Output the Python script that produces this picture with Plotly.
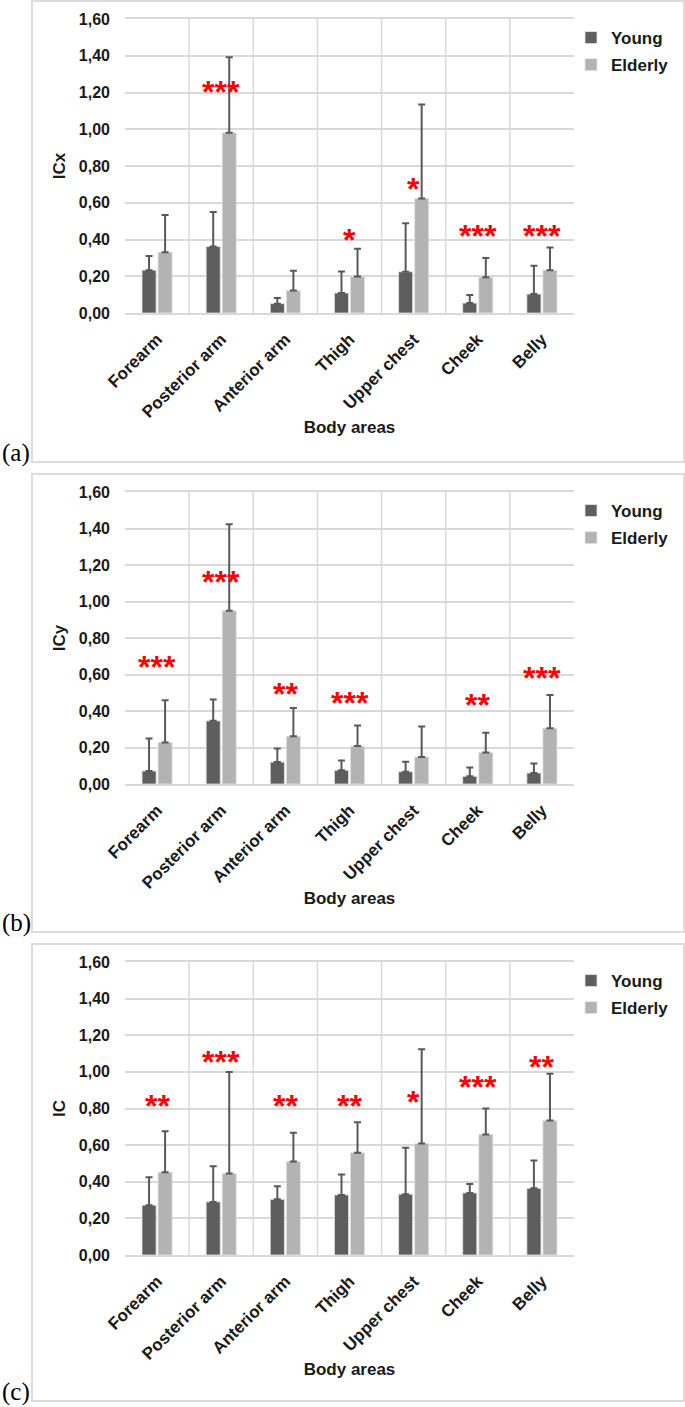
import plotly.graph_objects as go

areas = ["Forearm", "Posterior arm", "Anterior arm", "Thigh", "Upper chest", "Cheek", "Belly"]

# (a) ICx
icx_young = [0.233, 0.362, 0.051, 0.109, 0.224, 0.054, 0.103]
icx_young_sd = [0.077, 0.188, 0.030, 0.117, 0.265, 0.044, 0.154]
icx_elderly = [0.331, 0.981, 0.123, 0.199, 0.623, 0.195, 0.233]
icx_elderly_sd = [0.203, 0.411, 0.107, 0.150, 0.512, 0.104, 0.124]
icx_stars = ["", "***", "", "*", "*", "***", "***"]
icx_star_y = [0, 1.236, 0, 0.43, 0.708, 0.454, 0.454]

# (b) ICy
icy_young = [0.071, 0.346, 0.120, 0.075, 0.067, 0.042, 0.060]
icy_young_sd = [0.179, 0.117, 0.075, 0.054, 0.055, 0.049, 0.053]
icy_elderly = [0.228, 0.949, 0.262, 0.208, 0.148, 0.173, 0.306]
icy_elderly_sd = [0.231, 0.474, 0.155, 0.113, 0.167, 0.108, 0.181]
icy_stars = ["***", "***", "**", "***", "", "**", "***"]
icy_star_y = [0.674, 1.139, 0.525, 0.476, 0, 0.467, 0.612]

# (c) IC
ic_young = [0.272, 0.290, 0.304, 0.328, 0.332, 0.339, 0.364]
ic_young_sd = [0.153, 0.195, 0.071, 0.111, 0.253, 0.049, 0.152]
ic_elderly = [0.452, 0.445, 0.510, 0.559, 0.609, 0.658, 0.734]
ic_elderly_sd = [0.224, 0.554, 0.157, 0.166, 0.514, 0.142, 0.256]
ic_stars = ["**", "***", "**", "**", "*", "***", "**"]
ic_star_y = [0.847, 1.088, 0.847, 0.847, 0.866, 0.949, 1.059]

panels = [
    ("ICx", "(a)", icx_young, icx_young_sd, icx_elderly, icx_elderly_sd, icx_stars, icx_star_y),
    ("ICy", "(b)", icy_young, icy_young_sd, icy_elderly, icy_elderly_sd, icy_stars, icy_star_y),
    ("IC", "(c)", ic_young, ic_young_sd, ic_elderly, ic_elderly_sd, ic_stars, ic_star_y),
]

W, H = 685, 1407
YOUNG = "#5e5e5e"
ELDERLY = "#b3b3b3"
GRID = "#d9d9d9"
FONT = "Liberation Sans"
TXT = "#1a1a1a"

# pixel layout of each panel: plot top, plot bottom, box top, box bottom, label y
boxes = [(19, 313, 1, 462, 453), (492, 784, 474, 932, 923), (962, 1255, 944, 1401, 1392)]
px0, px1 = 125, 574

def fx(p):
    return p / W

def fy(p):
    return 1 - p / H

fig = go.Figure()
shapes = []
annotations = []

for i, (ytitle, tag, yv, ysd, ev, esd, stars, star_y) in enumerate(panels):
    n = "" if i == 0 else str(i + 1)
    xa, ya = "x" + n, "y" + n
    lg = "legend" + n
    top, bot, btop, bbot, ly = boxes[i]

    fig.add_trace(go.Bar(
        x=areas, y=yv, name="Young", xaxis=xa, yaxis=ya, legend=lg,
        legendgroup="y" + n,
        marker=dict(color=YOUNG, line=dict(color="#e6e6e6", width=0.8)),
        error_y=dict(type="data", array=ysd, symmetric=False, arrayminus=[0] * 7,
                     color="#595959", thickness=2, width=3.5),
    ))
    fig.add_trace(go.Bar(
        x=areas, y=ev, name="Elderly", xaxis=xa, yaxis=ya, legend=lg,
        legendgroup="e" + n,
        marker=dict(color=ELDERLY, line=dict(color="#e6e6e6", width=0.8)),
        error_y=dict(type="data", array=esd, symmetric=False, arrayminus=[0] * 7,
                     color="#595959", thickness=2, width=3.5),
    ))

    fig.layout["xaxis" + n] = dict(
        domain=[fx(px0), fx(px1)], anchor=ya, tickangle=-45, automargin=False,
        showgrid=False, showline=True, linecolor=GRID, linewidth=1.5, mirror=True,
        ticklabelstandoff=8,
        tickfont=dict(family=FONT, size=17, color=TXT, weight="bold"),
        title=dict(text="Body areas", standoff=0,
                   font=dict(family=FONT, size=17, color=TXT, weight="bold")),
    )
    fig.layout["yaxis" + n] = dict(
        domain=[fy(bot), fy(top)], anchor=xa, range=[0, 1.6], dtick=0.2,
        tickformat=".2f", showgrid=True, gridcolor=GRID, gridwidth=1.5,
        zeroline=False, ticklabelstandoff=14, automargin=False,
        tickfont=dict(family=FONT, size=16, color=TXT, weight="bold"),
        title=dict(text=ytitle, standoff=8,
                   font=dict(family=FONT, size=17, color=TXT, weight="bold")),
    )
    fig.layout[lg] = dict(
        x=fx(571), y=fy(top + 1), xanchor="left", yanchor="top",
        bgcolor="rgba(0,0,0,0)", tracegroupgap=2, traceorder="grouped",
        font=dict(family=FONT, size=17, color=TXT, weight="bold"),
    )

    # vertical category gridlines
    for k in range(1, 7):
        shapes.append(dict(type="line", xref=xa + " domain", yref=ya + " domain",
                           x0=k / 7, x1=k / 7, y0=0, y1=1,
                           line=dict(color=GRID, width=1.5), layer="below"))

    # panel frame
    shapes.append(dict(type="rect", xref="paper", yref="paper",
                       x0=fx(32), x1=fx(684), y0=fy(bbot), y1=fy(btop),
                       line=dict(color="#dcdcdc", width=2)))

    annotations.append(dict(text=tag, xref="paper", yref="paper", x=fx(0), y=fy(ly),
                            xanchor="left", yanchor="middle", showarrow=False,
                            font=dict(family="Liberation Serif", size=25, color="black")))

    for a, s, sy in zip(areas, stars, star_y):
        if s:
            annotations.append(dict(text=s, x=a, y=sy, xref=xa, yref=ya, showarrow=False,
                                    yshift=-6, xanchor="center", yanchor="middle",
                                    font=dict(family=FONT, size=32, color="red", weight="bold")))

fig.update_layout(
    width=W, height=H, margin=dict(l=0, r=0, t=0, b=0, autoexpand=False),
    paper_bgcolor="white", plot_bgcolor="white",
    barmode="group", bargap=0.5, bargroupgap=0.12,
    separators=",.", shapes=shapes, annotations=annotations,
)

fig.write_html("out.html", config={"displayModeBar": False},
               post_script="document.body.style.margin='0';")
